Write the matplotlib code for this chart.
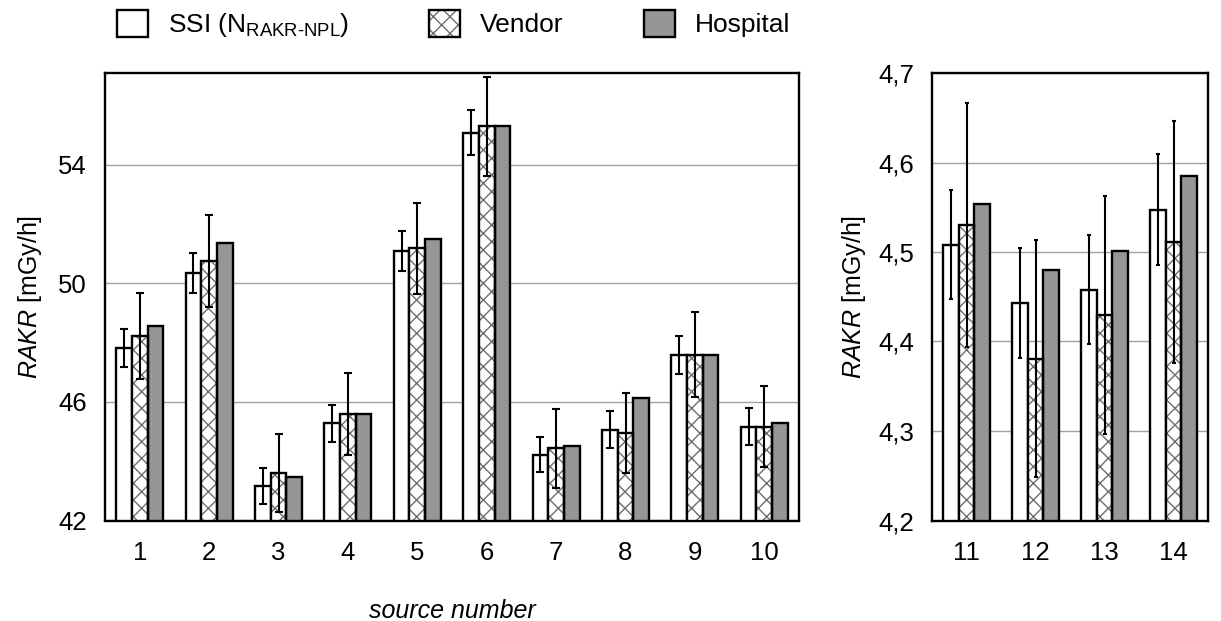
import numpy as np
import matplotlib
matplotlib.use("Agg")
import matplotlib.pyplot as plt

plt.rcParams['font.family'] = ['Liberation Sans', 'DejaVu Sans']
plt.rcParams['mathtext.fontset'] = 'custom'
plt.rcParams['mathtext.rm'] = 'Liberation Sans'
plt.rcParams['mathtext.it'] = 'Liberation Sans:italic'
plt.rcParams['hatch.linewidth'] = 1.0

# sources 1-10 (mGy/h)
src_left = [1, 2, 3, 4, 5, 6, 7, 8, 9, 10]
ssi_left = [47.82, 50.35, 43.17, 45.28, 51.09, 55.09, 44.22, 45.07, 47.59, 45.17]
ssi_left_err = [0.65, 0.67, 0.60, 0.62, 0.67, 0.75, 0.59, 0.61, 0.64, 0.61]
vendor_left = [48.22, 50.76, 43.60, 45.60, 51.18, 55.30, 44.44, 44.96, 47.59, 45.17]
vendor_left_err = [1.45, 1.54, 1.31, 1.38, 1.55, 1.67, 1.33, 1.35, 1.43, 1.36]
hospital_left = [48.55, 51.38, 43.48, 45.60, 51.49, 55.30, 44.53, 46.12, 47.59, 45.28]

# sources 11-14 (mGy/h)
src_right = [11, 12, 13, 14]
ssi_right = [4.508, 4.443, 4.458, 4.547]
ssi_right_err = [0.061, 0.061, 0.061, 0.062]
vendor_right = [4.530, 4.381, 4.430, 4.511]
vendor_right_err = [0.136, 0.132, 0.133, 0.135]
hospital_right = [4.554, 4.480, 4.501, 4.585]

left_ticks = [42, 46, 50, 54]
right_ticks = [4.2, 4.3, 4.4, 4.5, 4.6, 4.7]
right_ticklabels = ['4,2', '4,3', '4,4', '4,5', '4,6', '4,7']

w = 0.225
fs = 18.5
hosp_color = '#969696'
hatch_color = '#6e6e6e'

fig = plt.figure(figsize=(12.21, 6.21), dpi=100)
axL = fig.add_axes([105 / 1221, 100.5 / 621, 694 / 1221, 447.5 / 621])
axR = fig.add_axes([932 / 1221, 100.5 / 621, 276 / 1221, 447.5 / 621])


def draw(ax, x, ssi, ssi_err, vendor, vendor_err, hosp, capsize):
    x = np.array(x)
    h1 = ax.bar(x - w, ssi, w, color='white', edgecolor='black', linewidth=1.7, zorder=2)
    h2a = ax.bar(x, vendor, w, color='white', edgecolor=hatch_color, linewidth=0,
                 hatch='xx', zorder=2)
    h2b = ax.bar(x, vendor, w, fill=False, edgecolor='black', linewidth=1.7, zorder=3)
    h3 = ax.bar(x + w, hosp, w, color=hosp_color, edgecolor='black', linewidth=1.7, zorder=2)
    ax.errorbar(x - w, ssi, yerr=ssi_err, fmt='none', ecolor='black', elinewidth=1.5,
                capsize=capsize, capthick=1.5, zorder=4)
    ax.errorbar(x, vendor, yerr=vendor_err, fmt='none', ecolor='black', elinewidth=1.5,
                capsize=capsize, capthick=1.5, zorder=4)
    ax.set_xticks(x)
    ax.set_xticklabels([str(s) for s in x])
    ax.set_xlim(x[0] - 0.5, x[-1] + 0.5)
    ax.set_axisbelow(True)
    ax.yaxis.grid(True, color='#a0a0a0', linewidth=1.0)
    ax.tick_params(axis='both', length=0, labelsize=fs)
    ax.tick_params(axis='y', pad=13)
    ax.tick_params(axis='x', pad=15)
    for sp in ax.spines.values():
        sp.set_linewidth(1.7)
    return h1, (h2a, h2b), h3


handles = draw(axL, src_left, ssi_left, ssi_left_err, vendor_left, vendor_left_err,
               hospital_left, 3)
draw(axR, src_right, ssi_right, ssi_right_err, vendor_right, vendor_right_err,
     hospital_right, 1.5)

axL.set_ylim(42, 57.1)
axL.set_yticks(left_ticks)
axL.set_yticklabels([str(t) for t in left_ticks])
axR.set_ylim(4.2, 4.7)
axR.set_yticks(right_ticks)
axR.set_yticklabels(right_ticklabels)

axL.set_ylabel(r'$\mathit{RAKR}$ [mGy/h]', fontsize=18, labelpad=10)
axR.set_ylabel(r'$\mathit{RAKR}$ [mGy/h]', fontsize=18, labelpad=7)
axL.set_xlabel('source number', fontsize=18, style='italic', labelpad=24)

labels = [r'SSI (N$_{\mathrm{RAKR\text{-}NPL}}$)', 'Vendor', 'Hospital']
fig.legend(handles, labels, loc='upper left', bbox_to_anchor=(117 / 1221, 1 - 10 / 621),
           ncol=3, frameon=False, fontsize=19, handlelength=1.17, handleheight=1.2,
           handletextpad=0.75, columnspacing=3.05, borderpad=0, borderaxespad=0)

fig.savefig('out.png', dpi=100)
